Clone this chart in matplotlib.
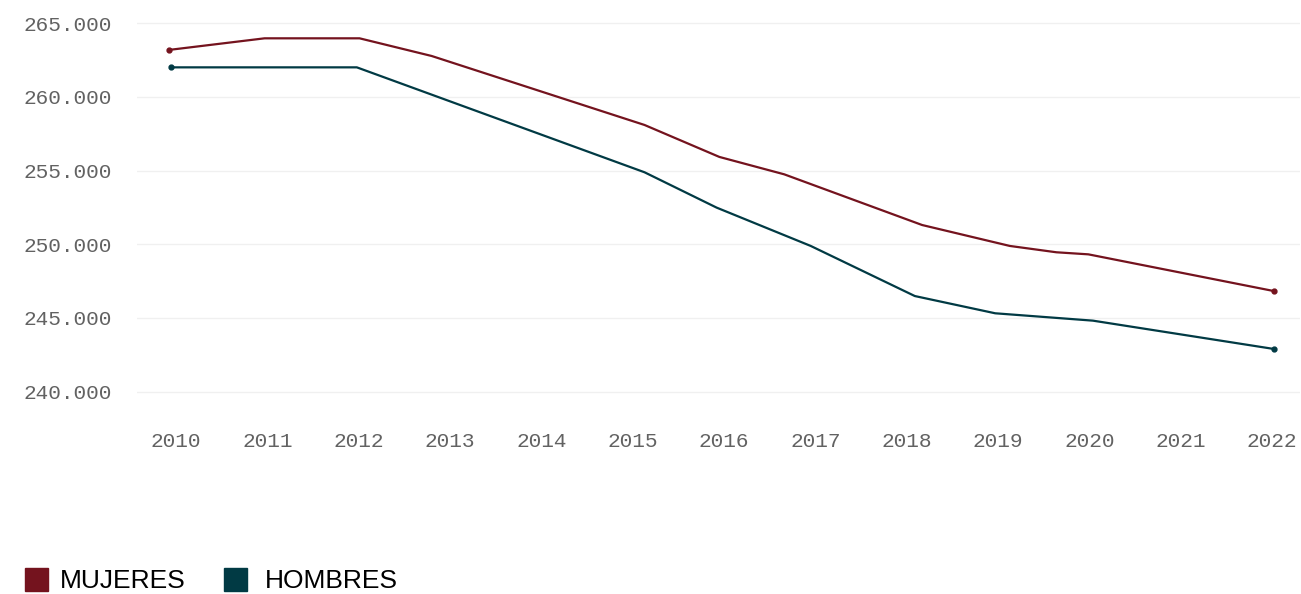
import matplotlib
matplotlib.use("Agg")
import matplotlib.pyplot as plt
from matplotlib.patches import Rectangle
from matplotlib.ticker import FuncFormatter

# fractional years where the lines bend, values in thousands
mujeres_x = [2009.92, 2010.97, 2012.01, 2012.80, 2015.13, 2015.95, 2016.66,
             2018.17, 2019.13, 2019.64, 2019.99, 2022.02]
mujeres_y = [263.19, 263.98, 263.98, 262.78, 258.10, 255.93, 254.75,
             251.31, 249.89, 249.46, 249.32, 246.83]

hombres_x = [2009.95, 2011.98, 2015.13, 2015.92, 2016.95, 2018.09, 2018.97,
             2020.04, 2022.02]
hombres_y = [262.01, 262.01, 254.89, 252.49, 249.89, 246.49, 245.32,
             244.82, 242.90]

years = list(range(2010, 2023))
y_ticks = [240, 245, 250, 255, 260, 265]

series = [("MUJERES", mujeres_x, mujeres_y, "#74131e"),
          ("HOMBRES", hombres_x, hombres_y, "#013a44")]

fig = plt.figure(figsize=(13.01, 5.94), dpi=100)
ax = fig.add_axes([0.1053, 0.3034, 0.8939, 0.6822])

for name, xs, ys, col in series:
    ax.plot(xs, ys, color=col, lw=1.6, solid_joinstyle="round", zorder=3)
    ax.plot([xs[0], xs[-1]], [ys[0], ys[-1]], "o", color=col, ms=3.5, zorder=4)

ax.set_xlim(2009.573, 2022.307)
ax.set_ylim(238.5, 266)
ax.set_xticks(years)
ax.set_yticks(y_ticks)
ax.yaxis.set_major_formatter(FuncFormatter(lambda v, p: f"{int(v)}.000"))

ax.grid(axis="y", color="#f0f0f0", lw=1)
ax.set_axisbelow(True)
for s in ax.spines.values():
    s.set_visible(False)
ax.tick_params(length=0, labelsize=15.2, labelcolor="#626262")
ax.tick_params(axis="y", pad=18)
ax.tick_params(axis="x", pad=13)
for lab in ax.get_xticklabels() + ax.get_yticklabels():
    lab.set_family("Liberation Mono")

# legend along the bottom: (square left, text left) in pixels
leg_pos = [(25, 60), (224, 265)]
for (name, xs, ys, col), (sx, tx) in zip(series, leg_pos):
    fig.add_artist(Rectangle((sx / 1301, 1 - 591 / 594), 23 / 1301, 23 / 594,
                             transform=fig.transFigure, color=col))
    fig.text(tx / 1301, 1 - 581 / 594, name, fontsize=19,
             family="Liberation Sans", color="black", va="center", ha="left")

fig.savefig("out.png", dpi=100)
